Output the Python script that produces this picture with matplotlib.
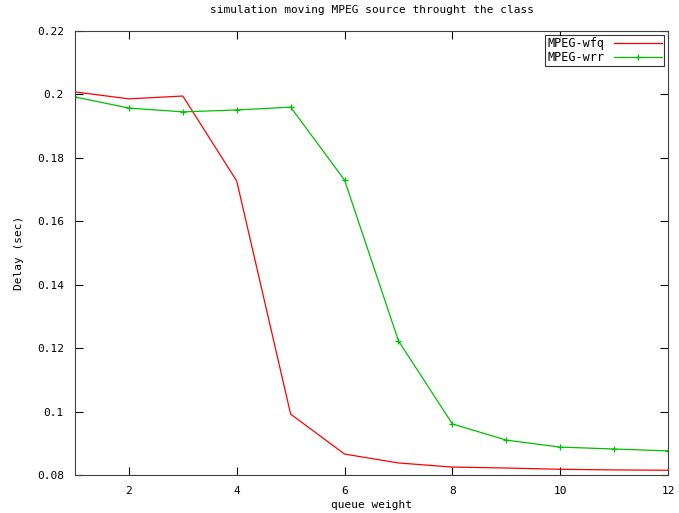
import matplotlib
matplotlib.use("Agg")
import matplotlib.pyplot as plt
from matplotlib.ticker import FuncFormatter

weights = [1, 2, 3, 4, 5, 6, 7, 8, 9, 10, 11, 12]
wfq = [0.2008, 0.1986, 0.1995, 0.1727, 0.0992, 0.0866, 0.0838, 0.0825, 0.0822, 0.0818, 0.0816, 0.0815]
wrr = [0.1992, 0.1957, 0.1945, 0.1951, 0.1960, 0.1730, 0.1223, 0.0961, 0.0910, 0.0888, 0.0882, 0.0876]

x_ticks = [2, 4, 6, 8, 10, 12]
y_ticks = [0.08, 0.10, 0.12, 0.14, 0.16, 0.18, 0.20, 0.22]

plt.rcParams['font.family'] = 'DejaVu Sans Mono'
plt.rcParams['font.size'] = 8

fig = plt.figure(figsize=(6.79, 5.13), dpi=100)
ax = fig.add_axes([75 / 679, 38 / 513, 593 / 679, 444 / 513])

ax.plot(weights, wfq, color='#ff0000', lw=0.9, label='MPEG-wfq')
ax.plot(weights, wrr, color='#00c000', lw=0.9, marker='+', markersize=5,
        markeredgewidth=0.9, label='MPEG-wrr')

ax.set_xlim(1, 12)
ax.set_ylim(0.08, 0.22)
ax.set_xticks(x_ticks)
ax.set_yticks(y_ticks)
ax.yaxis.set_major_formatter(FuncFormatter(lambda v, p: '%g' % round(v, 2)))
ax.tick_params(direction='in', top=True, right=True, length=6, width=0.8, pad=8)
for s in ax.spines.values():
    s.set_linewidth(0.8)
    s.set_color('#404040')

ax.set_title('simulation moving MPEG source throught the class', fontsize=8, pad=13)
ax.set_xlabel('queue weight', labelpad=3)
ax.set_ylabel('Delay (sec)', labelpad=9)

leg = ax.legend(loc='upper right', markerfirst=False, frameon=True, fancybox=False,
                handlelength=4, borderpad=0.2, labelspacing=0.05, borderaxespad=0.35,
                handletextpad=0.8, fontsize=8.5)
leg.get_frame().set_edgecolor('black')
leg.get_frame().set_linewidth(0.8)

fig.savefig('out.png', dpi=100)
